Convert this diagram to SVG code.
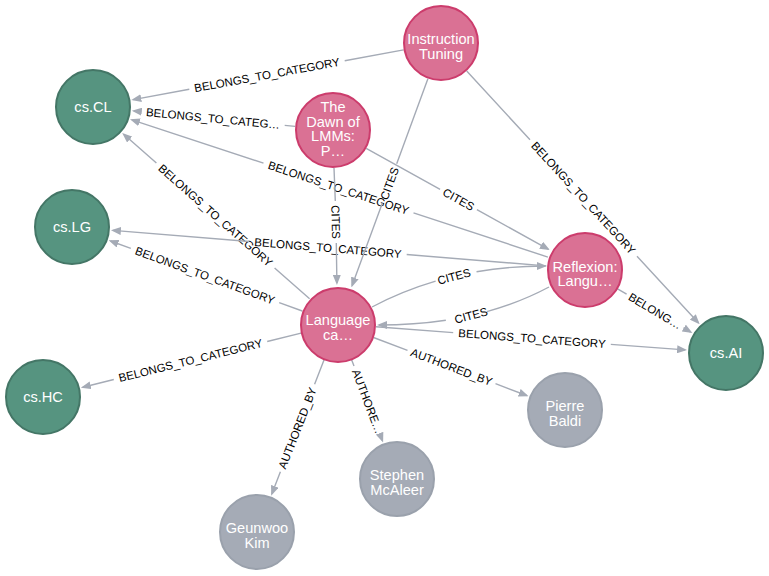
<svg xmlns="http://www.w3.org/2000/svg" width="769" height="576" viewBox="0 0 769 576">
<style>
.bg{fill:#ffffff}
.edge{fill:none;stroke:#A5ABB6;stroke-width:1.4;marker-end:url(#arrow)}
.elabel{font-family:"Liberation Sans",Arial,sans-serif;font-size:11.5px;fill:#000000;text-anchor:middle}
.node circle{stroke-width:2}
.paper circle{fill:#DA7194;stroke:#CC3C6C}
.cat circle{fill:#569480;stroke:#447666}
.person circle{fill:#A5ABB6;stroke:#9AA1AC}
.node text{font-family:"Liberation Sans",Arial,sans-serif;font-size:14.6px;fill:#ffffff;text-anchor:middle}
</style>
<defs>
<marker id="arrow" markerUnits="userSpaceOnUse" markerWidth="10" markerHeight="8" viewBox="0 0 10 8" refX="8" refY="4" orient="auto">
<path d="M0,0 L10,4 L0,8 z" fill="#A5ABB6"/>
</marker>
</defs>
<rect class="bg" x="0" y="0" width="769" height="576"/>
<g id="connectors">
<path class="edge" d="M403.6,49.9 L344.7,60.7 M189.3,89.3 L133.3,99.6"/>
<text class="elabel" transform="translate(267,75) rotate(-10.4)" y="4">BELONGS_TO_CATEGORY</text>
<path class="edge" d="M295.2,126.4 L284.7,125.4 M141.3,111.6 L133.8,110.9"/>
<text class="elabel" transform="translate(213,118.5) rotate(5.5)" y="4">BELONGS_TO_CATEG…</text>
<path class="edge" d="M547.9,257.1 L413.5,212.8 M263.5,163.2 L131.9,119.8"/>
<text class="elabel" transform="translate(338.5,188) rotate(18.3)" y="4">BELONGS_TO_CATEGORY</text>
<path class="edge" d="M309.6,298.8 L274.6,267.9 M156.4,163.1 L123.7,134.2"/>
<text class="elabel" transform="translate(215.5,215.5) rotate(41.5)" y="4">BELONGS_TO_CATEGORY</text>
<path class="edge" d="M302.3,311 L279.2,302.6 M130.8,248.4 L110.5,241"/>
<text class="elabel" transform="translate(205,275.5) rotate(20)" y="4">BELONGS_TO_CATEGORY</text>
<path class="edge" d="M546.1,265.9 L406.7,254.5 M249.3,241.5 L112.9,230.4"/>
<text class="elabel" transform="translate(328,248) rotate(4.7)" y="4">BELONGS_TO_CATEGORY</text>
<path class="edge" d="M301.1,333.1 L267.2,341.5 M113.8,379.5 L82.8,387.2"/>
<text class="elabel" transform="translate(190.5,360.5) rotate(-13.9)" y="4">BELONGS_TO_CATEGORY</text>
<path class="edge" d="M375.9,326.8 L453.2,332.6 M610.8,344.4 L685.1,349.9"/>
<text class="elabel" transform="translate(532,338.5) rotate(4.3)" y="4">BELONGS_TO_CATEGORY</text>
<path class="edge" d="M616.7,288.3 L626.6,294.2 M683.4,327.8 L690.7,332.1"/>
<text class="elabel" transform="translate(655,311) rotate(30.6)" y="4">BELONG…</text>
<path class="edge" d="M466.7,71 L530,139.8 M637,256.2 L698.3,322.8"/>
<text class="elabel" transform="translate(583.5,198) rotate(47.4)" y="4">BELONGS_TO_CATEGORY</text>
<path class="edge" d="M427.9,78.7 L396.7,163.8 M382.3,203.2 L352.1,285.5"/>
<text class="elabel" transform="translate(389.5,183.5) rotate(-69.9)" y="4">CITES</text>
<path class="edge" d="M334,168 L335.3,201 M336.3,243 L336.9,283"/>
<text class="elabel" transform="translate(335.8,222) rotate(88.5)" y="4">CITES</text>
<path class="edge" d="M366.2,148.4 L440.1,189.3 M476.9,209.7 L548.1,249.1"/>
<text class="elabel" transform="translate(458.5,199.5) rotate(29)" y="4">CITES</text>
<path class="edge" d="M372,307 Q450,266 545,266" pathLength="100" stroke-dasharray="38.3 23.4 100"/>
<text class="elabel" transform="translate(454,276.5) rotate(-15)" y="4">CITES</text>
<path class="edge" d="M549,287 Q478,325 379,325" pathLength="100" stroke-dasharray="38.1 23.8 100"/>
<text class="elabel" transform="translate(471,315.5) rotate(-15)" y="4">CITES</text>
<path class="edge" d="M324.2,359.4 L314.6,384.2 M280.4,471.8 L271.9,493.8"/>
<text class="elabel" transform="translate(297.5,428) rotate(-68.7)" y="4">AUTHORED_BY</text>
<path class="edge" d="M351.5,359.5 L354,366 M381,437 L382.4,440.7"/>
<text class="elabel" transform="translate(367.5,401.5) rotate(69.2)" y="4">AUTHORE…</text>
<path class="edge" d="M373.5,337.5 L407.5,350.3 M495.5,383.7 L526.7,395.5"/>
<text class="elabel" transform="translate(451.5,367) rotate(20.75)" y="4">AUTHORED_BY</text>
</g>
<g id="node-instruction-tuning" class="node paper"><circle cx="441" cy="43" r="37"/><text x="441" y="44">Instruction</text><text x="441" y="58.5">Tuning</text></g>
<g id="node-cs-cl" class="node cat"><circle cx="93" cy="107" r="37"/><text x="93" y="112">cs.CL</text></g>
<g id="node-dawn-lmms" class="node paper"><circle cx="333" cy="130" r="37"/><text x="333" y="112">The</text><text x="333" y="126.5">Dawn of</text><text x="333" y="141">LMMs:</text><text x="333" y="155.5">P…</text></g>
<g id="node-cs-lg" class="node cat"><circle cx="72" cy="227" r="37"/><text x="72" y="232">cs.LG</text></g>
<g id="node-reflexion" class="node paper"><circle cx="585" cy="270" r="37"/><text x="585" y="271.5">Reflexion:</text><text x="585" y="286">Langu…</text></g>
<g id="node-language" class="node paper"><circle cx="338" cy="325" r="37"/><text x="338" y="325">Language</text><text x="338" y="339.5">ca…</text></g>
<g id="node-cs-hc" class="node cat"><circle cx="43" cy="397" r="37"/><text x="43" y="402">cs.HC</text></g>
<g id="node-cs-ai" class="node cat"><circle cx="726" cy="353" r="37"/><text x="726" y="358">cs.AI</text></g>
<g id="node-pierre-baldi" class="node person"><circle cx="565" cy="410" r="37"/><text x="565" y="411">Pierre</text><text x="565" y="425.5">Baldi</text></g>
<g id="node-stephen-mcaleer" class="node person"><circle cx="397" cy="479" r="37"/><text x="397" y="480">Stephen</text><text x="397" y="494.5">McAleer</text></g>
<g id="node-geunwoo-kim" class="node person"><circle cx="257" cy="532" r="37"/><text x="257" y="533">Geunwoo</text><text x="257" y="547.5">Kim</text></g>
</svg>
